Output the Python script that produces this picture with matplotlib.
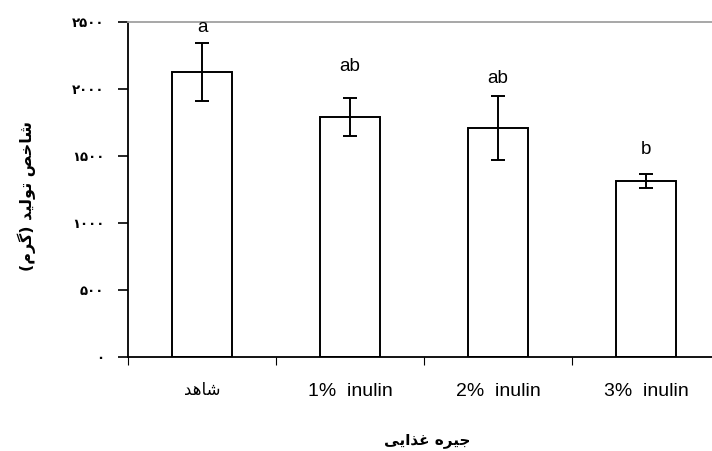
import numpy as np
from matplotlib import pyplot as plt

# treatment groups (Persian words stored in visual order with presentation forms)
groups = ['\uFEAA\uFEEB\uFE8E\uFEB7', '1%  inulin', '2%  inulin', '3%  inulin']
index_mean = [2125, 1793, 1707, 1316]
index_err = [215, 143, 238, 52]
letters = ['a', 'ab', 'ab', 'b']

yticks = [0, 500, 1000, 1500, 2000, 2500]
ytick_labels = ['\u06F0', '\u06F5\u06F0\u06F0', '\u06F1\u06F0\u06F0\u06F0',
                '\u06F1\u06F5\u06F0\u06F0', '\u06F2\u06F0\u06F0\u06F0',
                '\u06F2\u06F5\u06F0\u06F0']

xlabel = '\uFEF0\uFEF3\uFE8D\uFEAC\uFECF \uFEE9\uFEAE\uFEF4\uFE9F'
ylabel = '(\uFEE1\uFEAE\uFB94) \uFEAA\uFEF4\uFEDF\uFEEE\uFE97 \uFEBA\uFEA7\uFE8E\uFEB7'

plt.rcParams['font.family'] = ['Liberation Sans', 'DejaVu Sans']

fig = plt.figure(figsize=(7.12, 4.51), dpi=100)
ax = fig.add_axes([128/712, 1 - 357/451, 592/712, 335/451])

x = np.arange(len(groups))
ax.bar(x, index_mean, width=0.41, color='white', edgecolor='black',
       linewidth=1.4, zorder=2)
ax.errorbar(x, index_mean, yerr=index_err, fmt='none', ecolor='black',
            elinewidth=1.4, capsize=5, capthick=1.4, zorder=3)

# letter gap above each error bar, in data units
letter_gap = [120, 230, 135, 180]
for xi, m, e, t, g in zip(x, index_mean, index_err, letters, letter_gap):
    ax.text(xi, m + e + g, t, ha='center', va='center', fontsize=13.5)

ax.set_xlim(-0.5, 3.5)
ax.set_ylim(0, 2500)

ax.set_yticks(yticks)
ax.set_yticklabels(ytick_labels, family=['DejaVu Sans'], fontsize=9.5,
                   fontweight='bold')
ax.tick_params(axis='y', direction='out', length=7, width=1.2, pad=10)

ax.set_xticks(x)
ax.set_xticklabels(groups, family=['Liberation Sans', 'DejaVu Sans'], fontsize=14)
ax.get_xticklabels()[0].set_fontsize(12)
ax.set_xticks(np.arange(-0.5, 4.0, 1.0), minor=True)
ax.tick_params(axis='x', which='major', length=0, pad=19)
ax.tick_params(axis='x', which='minor', direction='out', length=6, width=0.8)

for side in ['left', 'bottom']:
    ax.spines[side].set_linewidth(1.3)
ax.spines['top'].set_color('#a0a0a0')
ax.spines['top'].set_linewidth(1.3)
ax.spines['right'].set_visible(False)

fig.text(427/712, 1 - 440/451, xlabel, ha='center', va='center',
         fontsize=11, fontweight='bold', family=['DejaVu Sans'])
fig.text(27/712, 1 - 196/451, ylabel, ha='center', va='center', rotation=90,
         fontsize=11.5, fontweight='bold', family=['DejaVu Sans'])

fig.savefig('out.png', dpi=100)
